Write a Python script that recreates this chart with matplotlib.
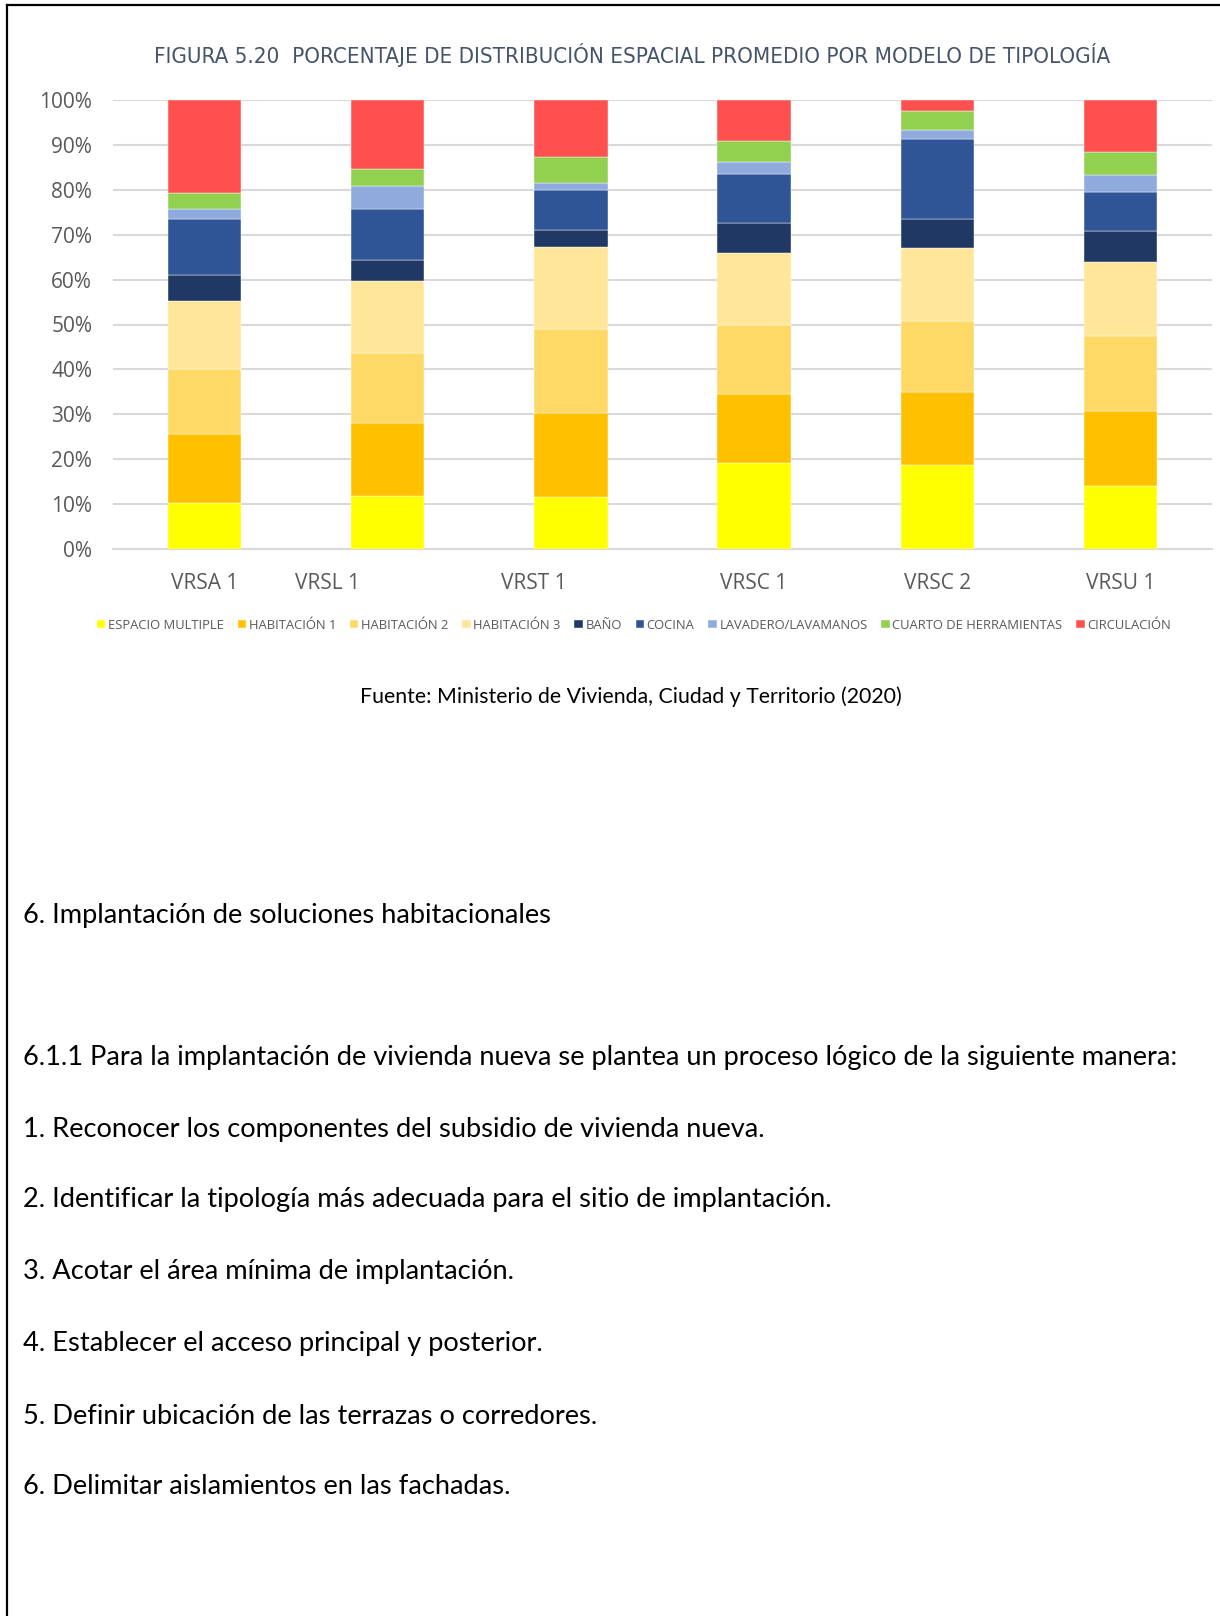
import matplotlib
matplotlib.use("Agg")
import matplotlib.pyplot as plt
import numpy as np
from matplotlib.lines import Line2D
import matplotlib.transforms as mtransforms

categories = ["VRSA 1", "VRSL 1", "VRST 1", "VRSC 1", "VRSC 2", "VRSU 1"]
series_names = ["ESPACIO MULTIPLE", "HABITACIÓN 1", "HABITACIÓN 2", "HABITACIÓN 3",
                "BAÑO", "COCINA", "LAVADERO/LAVAMANOS", "CUARTO DE HERRAMIENTAS", "CIRCULACIÓN"]
espacio_multiple = [10.3, 11.9, 11.6, 19.2, 18.8, 14.1]
habitacion_1 = [15.3, 16.1, 18.6, 15.3, 16.1, 16.7]
habitacion_2 = [14.6, 15.7, 18.9, 15.5, 15.8, 16.6]
habitacion_3 = [15.1, 16.0, 18.1, 16.0, 16.3, 16.6]
bano = [5.8, 4.6, 3.9, 6.5, 6.4, 6.8]
cocina = [12.3, 11.5, 8.8, 11.0, 17.9, 8.7]
lavadero = [2.4, 5.1, 1.7, 2.6, 2.0, 3.8]
cuarto_herramientas = [3.5, 3.8, 5.8, 4.7, 4.2, 5.1]
circulacion = [20.7, 15.3, 12.6, 9.2, 2.5, 11.6]
ytick_labels = ["0%", "10%", "20%", "30%", "40%", "50%", "60%", "70%", "80%", "90%", "100%"]

title = "FIGURA 5.20  PORCENTAJE DE DISTRIBUCIÓN ESPACIAL PROMEDIO POR MODELO DE TIPOLOGÍA"
source = "Fuente: Ministerio de Vivienda, Ciudad y Territorio (2020)"
body_lines = [
    "6. Implantación de soluciones habitacionales",
    "6.1.1 Para la implantación de vivienda nueva se plantea un proceso lógico de la siguiente manera:",
    "1. Reconocer los componentes del subsidio de vivienda nueva.",
    "2. Identificar la tipología más adecuada para el sitio de implantación.",
    "3. Acotar el área mínima de implantación.",
    "4. Establecer el acceso principal y posterior.",
    "5. Definir ubicación de las terrazas o corredores.",
    "6. Delimitar aislamientos en las fachadas.",
]

colors = ["#FFFF00", "#FFC000", "#FFD966", "#FFE699", "#203864",
          "#2F5597", "#8FAADC", "#92D050", "#FF5050"]
series = [espacio_multiple, habitacion_1, habitacion_2, habitacion_3, bano,
          cocina, lavadero, cuarto_herramientas, circulacion]

W, H = 1220, 1616
fig = plt.figure(figsize=(W / 100, H / 100), dpi=100)
fig.patch.set_facecolor("white")

ax = fig.add_axes([113 / W, 1 - 549 / H, 1099 / W, 449 / H])
x = np.arange(len(categories))
bottom = np.zeros(len(categories))
for name, vals, col in zip(series_names, series, colors):
    v = np.array(vals)
    ax.bar(x, v, bottom=bottom, width=0.4, color=col, edgecolor="white",
           linewidth=0.3, label=name, zorder=3)
    bottom += v

ax.set_xlim(-0.5, len(categories) - 0.5)
ax.set_ylim(0, 100)
ax.set_yticks(np.arange(0, 101, 10))
ax.set_yticklabels(ytick_labels)
ax.yaxis.grid(True, color="#D9D9D9", linewidth=1.5, zorder=0)
for s in ["top", "right", "left"]:
    ax.spines[s].set_visible(False)
ax.spines["bottom"].set_color("#D9D9D9")
ax.spines["bottom"].set_linewidth(1.5)
ax.tick_params(axis="both", length=0, colors="#595959", labelsize=15)
ax.tick_params(axis="y", pad=15)
ax.tick_params(axis="x", pad=17)
ax.set_xticks(x)
ax.set_xticklabels(categories, family=["Open Sans", "DejaVu Sans"])
for lab in ax.get_yticklabels():
    lab.set_family(["Open Sans", "DejaVu Sans"])
# label shifts as in the original layout (in category units)
label_shift = [0.0, -0.33, -0.2, 0.0, 0.0, 0.0]
for lab, sh in zip(ax.get_xticklabels(), label_shift):
    lab.set_transform(lab.get_transform() + mtransforms.ScaledTranslation(sh * 1099 / len(categories) / 100, 0, fig.dpi_scale_trans))

fig.text(632 / W, 1 - 55 / H, title, ha="center", va="center", fontsize=16.0,
         fontstretch="condensed", color="#44546A", family=["DejaVu Sans"])

handles, labels = ax.get_legend_handles_labels()
leg = fig.legend(handles, labels, loc="center", bbox_to_anchor=(634 / W, 1 - 625 / H),
                 ncol=9, frameon=False, handlelength=0.65, handleheight=0.65,
                 handletextpad=0.2, columnspacing=1.05,
                 prop={"family": ["Open Sans", "DejaVu Sans"], "size": 9.4})
for t in leg.get_texts():
    t.set_color("#595959")

fig.text(631 / W, 1 - 697 / H, source, ha="center", va="center", fontsize=15.3,
         color="#000000", family=["Lato", "DejaVu Sans"])

ys = [915, 1058, 1129, 1200, 1272, 1344, 1416, 1487]
for yy, line in zip(ys, body_lines):
    fig.text(23 / W, 1 - yy / H, line, ha="left", va="center", fontsize=19.6,
             color="#000000", family=["Lato", "DejaVu Sans"])

# page border (top and left)
fig.add_artist(Line2D([7 / W, 1.0], [1 - 5 / H, 1 - 5 / H], color="black", linewidth=1.6))
fig.add_artist(Line2D([7 / W, 7 / W], [1 - 5 / H, 0.0], color="black", linewidth=1.6))

fig.savefig("out.png", dpi=100, facecolor="white")
